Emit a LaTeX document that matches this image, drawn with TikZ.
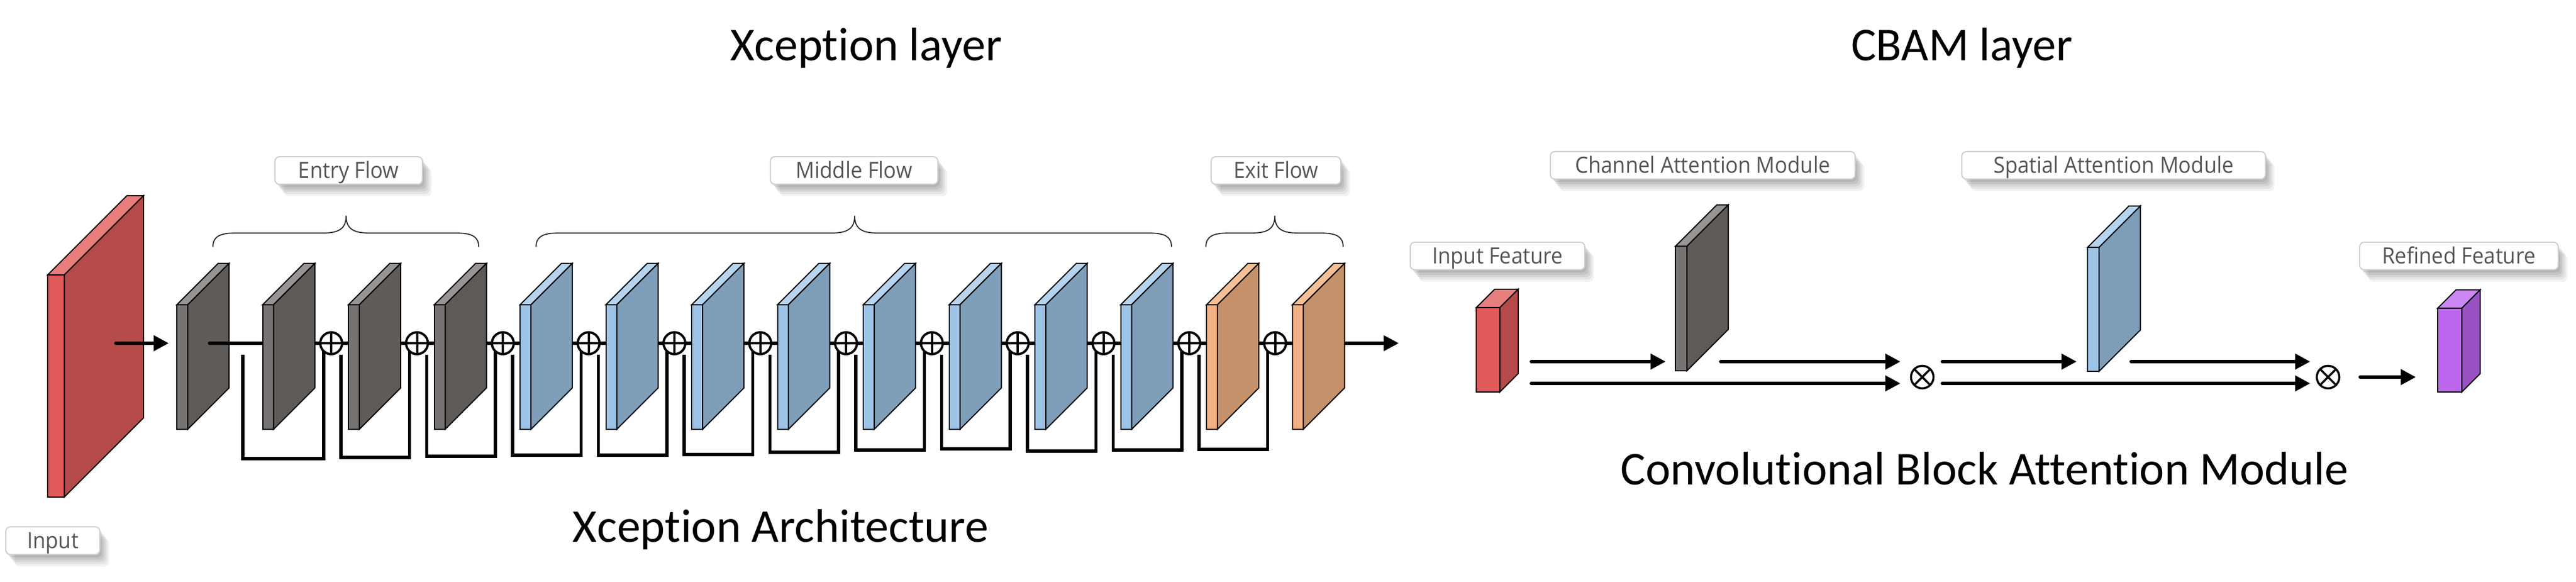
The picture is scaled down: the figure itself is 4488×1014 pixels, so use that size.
\documentclass[tikz,border=0pt]{standalone}
\usepackage{fontspec}
\setmainfont{Carlito}[Ligatures={NoCommon}]
\newfontfamily\lblfont[FakeStretch=0.93,Ligatures={NoCommon}]{Open Sans}
\usetikzlibrary{arrows.meta,shadows}
\definecolor{rdF}{HTML}{E15B5B}
\definecolor{rdT}{HTML}{E77D7D}
\definecolor{rdS}{HTML}{B54A4A}
\definecolor{gyF}{HTML}{767372}
\definecolor{gyT}{HTML}{979493}
\definecolor{gyS}{HTML}{5E5B59}
\definecolor{blF}{HTML}{9DC3E6}
\definecolor{blT}{HTML}{B7D4EE}
\definecolor{blS}{HTML}{7F9EBA}
\definecolor{ogF}{HTML}{F4B183}
\definecolor{ogT}{HTML}{F6BF94}
\definecolor{ogS}{HTML}{C5906A}
\definecolor{ppF}{HTML}{BC66F0}
\definecolor{ppT}{HTML}{CC88F4}
\definecolor{ppS}{HTML}{9852C4}
\definecolor{txtgray}{HTML}{555555}
\definecolor{lblborder}{HTML}{CFCFCF}

% slab: x0, ytop, w, h, depth, colour prefix
\newcommand\slab[6]{%
  \filldraw[fill=#6F,slabln] (#1,#2) rectangle ++(#3,#4);
  \filldraw[fill=#6T,slabln] (#1,#2) -- ++(#3,0) -- ++(#5,-#5) -- ++(-#3,0) -- cycle;
  \filldraw[fill=#6S,slabln] (#1+#3,#2) -- ++(#5,-#5) -- ++(0,#4) -- ++(-#5,#5) -- cycle;
}
% brace: left x, middle x, right x
\newcommand\brc[3]{%
  \draw[bracln] (#1,430) .. controls (#1,412) and (#1+12,406) .. (#1+40,406)
    -- (#2-40,406) .. controls (#2-12,406) and (#2,398) .. (#2,376)
    .. controls (#2,398) and (#2+12,406) .. (#2+40,406)
    -- (#3-40,406) .. controls (#3-12,406) and (#3,412) .. (#3,430);
}

\begin{document}
\begin{tikzpicture}[x=0.25pt,y=-0.25pt,
  slabln/.style={draw=black,line width=0.5pt,line join=miter},
  bracln/.style={draw=black!85,line width=0.45pt},
  skipln/.style={line width=1.3pt,line join=miter},
  arr/.style={line width=1.5pt,line cap=round,-{Triangle[length=6.6pt,width=6.6pt]}},
  oplus/.style={circle,draw=black,line width=1pt,fill=white,minimum size=9.5pt,inner sep=0pt,
    path picture={\draw[line width=1pt] (path picture bounding box.north) -- (path picture bounding box.south)
      (path picture bounding box.west) -- (path picture bounding box.east);}},
  otimes/.style={circle,draw=black,line width=0.9pt,fill=white,minimum size=9.8pt,inner sep=0pt,
    path picture={\draw[line width=0.9pt] (path picture bounding box.north west) -- (path picture bounding box.south east)
      (path picture bounding box.north east) -- (path picture bounding box.south west);}},
  ttl/.style={font=\fontsize{20.5pt}{24pt}\selectfont,text=black,inner sep=0pt},
  lbl/.style={draw=lblborder,line width=0.5pt,fill=white,rounded corners=2pt,inner sep=0pt,
    text=txtgray,font=\lblfont\fontsize{9.75pt}{11pt}\selectfont,text height=6.96pt,text depth=0pt,
    minimum height=12pt,
    general shadow={fill=black,opacity=0.08,shadow xshift=0.8pt,shadow yshift=-1.2pt},
    general shadow={fill=black,opacity=0.07,shadow xshift=1.6pt,shadow yshift=-2.2pt},
    general shadow={fill=black,opacity=0.07,shadow xshift=2.4pt,shadow yshift=-3.2pt},
    general shadow={fill=black,opacity=0.06,shadow xshift=3.2pt,shadow yshift=-4.2pt},
    general shadow={fill=black,opacity=0.05,shadow xshift=4pt,shadow yshift=-5.2pt}}
]
\useasboundingbox (0,0) rectangle (4488,1014);

% ---------- titles ----------
\node[ttl,anchor=base] (tx) at (1509,106) {Xception layer};
\node[ttl,anchor=base] (tc) at (3418,106) {CBAM layer};
\node[ttl,anchor=base] (txa) at (1360,945) {Xception Architecture};
\node[ttl,anchor=base] (tca) at (3458,845) {Convolutional Block Attention Module};

% ---------- labels ----------
\node[lbl,minimum width=41pt] (linput) at (92,942) {Input};
\node[lbl,minimum width=64.25pt] (lentry) at (607.5,297) {Entry Flow};
\node[lbl,minimum width=73pt] (lmid) at (1488,297) {Middle Flow};
\node[lbl,minimum width=56.5pt] (lexit) at (2223,297) {Exit Flow};
\node[lbl,minimum width=76pt] (lif) at (2609,446) {Input Feature};
\node[lbl,minimum width=132.75pt] (lcam) at (2966.5,288) {Channel Attention Module};
\node[lbl,minimum width=132.25pt] (lsam) at (3682.5,288) {Spatial Attention Module};
\node[lbl,minimum width=86.5pt] (lrf) at (4284,446) {Refined Feature};

% ---------- braces ----------
\brc{371}{603}{834}
\brc{934}{1489}{2041}
\brc{2101}{2221}{2340}

% ---------- Xception ----------
\slab{83}{479}{29}{387}{138}{rd}
\coordinate (ina) at (202,598);
\coordinate (inb) at (294,598);
\draw[arr] (ina) -- (inb);

\slab{308}{531}{19}{217}{72}{gy}
\coordinate (ms) at (365,598);
\coordinate (me) at (2437,598);
\draw[arr,line width=1.4pt] (ms) -- (me);

\foreach \k in {1,2,3}{\pgfmathsetmacro\xx{308+149.5*\k}\slab{\xx}{531}{19}{217}{72}{gy}}
\foreach \k in {4,...,11}{\pgfmathsetmacro\xx{308+149.5*\k}\slab{\xx}{531}{19}{217}{72}{bl}}
\foreach \k in {12,13}{\pgfmathsetmacro\xx{308+149.5*\k}\slab{\xx}{531}{19}{217}{72}{og}}

% skip connections
\foreach \xs/\xe/\yb in {423/564/799, 594/713.5/797, 743.5/863/795, 893/1012.5/793,
  1042.5/1162/793, 1192/1311.5/792, 1341.5/1461/788, 1491/1610.5/784,
  1640.5/1760/782, 1790/1909.5/786, 1939.5/2059/784, 2089/2208.5/783}{
  \draw[skipln] (\xs,618) |- (\xe,\yb) -- (\xe,610);
}
\foreach \k in {2,...,13}{\node[oplus] (c\k) at ({278+149.5*\k},598) {};}

% ---------- CBAM ----------
\slab{2572}{536}{41}{147}{32}{rd}
\slab{2919}{429}{20}{217}{72}{gy}
\slab{3637}{431}{20}{216}{72}{bl}
\slab{4247}{537}{42}{146}{32}{pp}

\node[otimes] (x1) at (3349,657) {};
\node[otimes] (x2) at (4056,657) {};

\coordinate (a1) at (2668,630); \coordinate (a1e) at (2902,630);
\coordinate (a2) at (2668,668); \coordinate (a2e) at (3311,668);
\coordinate (a3) at (2998,630); \coordinate (a3e) at (3311,630);
\coordinate (a4) at (3384,630); \coordinate (a4e) at (3618,630);
\coordinate (a5) at (3384,668); \coordinate (a5e) at (4025,668);
\coordinate (a6) at (3713,630); \coordinate (a6e) at (4025,630);
\coordinate (a7) at (4112,657); \coordinate (a7e) at (4209,657);
\draw[arr] (a1) -- (a1e);
\draw[arr] (a2) -- (a2e);
\draw[arr] (a3) -- (a3e);
\draw[arr] (a4) -- (a4e);
\draw[arr] (a5) -- (a5e);
\draw[arr] (a6) -- (a6e);
\draw[arr] (a7) -- (a7e);
\end{tikzpicture}
\end{document}
